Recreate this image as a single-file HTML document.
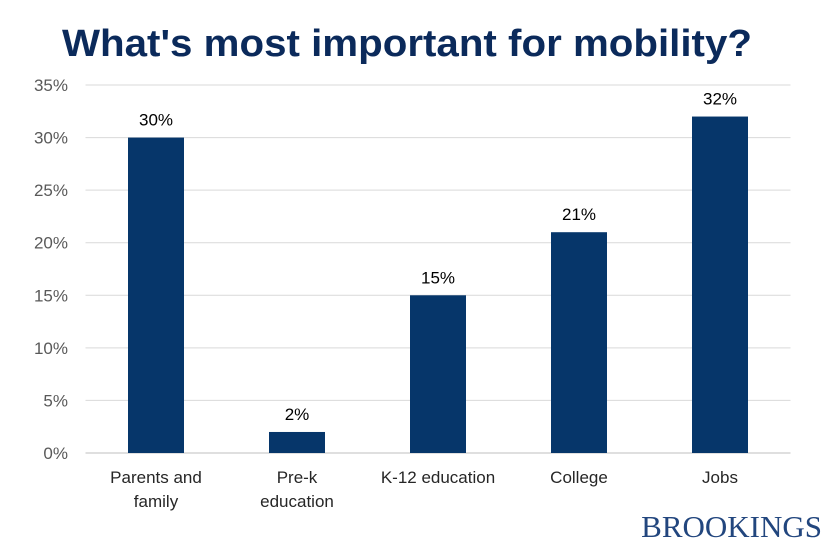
<!DOCTYPE html>
<html><head><meta charset="utf-8"><style>
body{margin:0;background:#fff;}
svg{display:block;font-family:"Liberation Sans",Arial,sans-serif;}
</style></head><body>
<svg id="chart" width="824" height="543" viewBox="0 0 824 543">
<text x="62" y="56" font-size="38" font-weight="bold" fill="#0b2a5b" textLength="690" lengthAdjust="spacingAndGlyphs">What's most important for mobility?</text>
<g id="grid"></g>
<g id="yticks"></g>
<g id="bars"></g>
<g id="xlabels"></g>
<text x="822" y="537" text-anchor="end" font-family="Liberation Serif,serif" font-size="31" fill="#22467e">BROOKINGS</text>
</svg>
<script>
const categories=[["Parents and","family"],["Pre-k","education"],["K-12 education"],["College"],["Jobs"]];
const values=[30,2,15,21,32];
const yTicks=[0,5,10,15,20,25,30,35];
const NS="http://www.w3.org/2000/svg";
const x0=85.5,x1=790.5,yBase=453,yTop=85,yMax=35;
const y=v=>yBase-(v/yMax)*(yBase-yTop);
const band=(x1-x0)/categories.length;
const xc=i=>x0+band*(i+0.5);
function mk(tag,attrs,parent,txt){const e=document.createElementNS(NS,tag);for(const k in attrs)e.setAttribute(k,attrs[k]);if(txt!==undefined)e.textContent=txt;document.getElementById(parent).appendChild(e);return e;}
yTicks.forEach(t=>{
  const l=mk('line',{x1:x0,x2:x1,y1:y(t),y2:y(t),stroke:t===0?'#bfbfbf':'#d9d9d9','stroke-width':1},'grid');
  
  
  const tx=mk('text',{x:68,y:y(t)+6,'text-anchor':'end','font-size':17,fill:'#595959'},'yticks',t+'%');
  
  
});
values.forEach((v,i)=>{
  const r=mk('rect',{x:xc(i)-28,y:y(v),width:56,height:yBase-y(v),fill:'#06366a'},'bars');
  
  
  const t=mk('text',{x:xc(i),y:y(v)-12,'text-anchor':'middle','font-size':17,fill:'#000'},'bars',v+'%');
  
  
  categories[i].forEach((line,j)=>{
    const c=mk('text',{x:xc(i),y:483+j*24,'text-anchor':'middle','font-size':17,fill:'#262626'},'xlabels',line);
    
    
  });
});
</script>
</body></html>
